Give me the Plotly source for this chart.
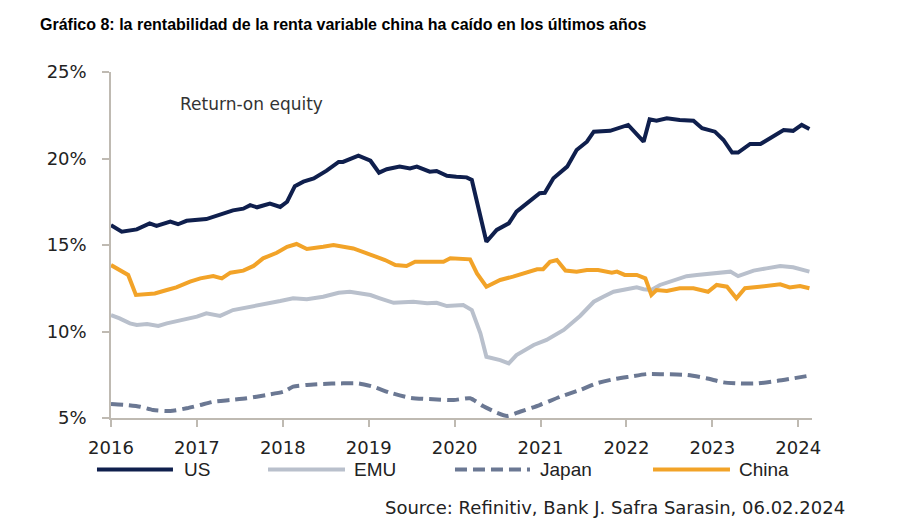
import plotly.graph_objects as go

# ---------------- data (decimal years, % values) ----------------
us_x = [2016.00, 2016.125, 2016.30, 2016.45, 2016.53, 2016.69, 2016.78, 2016.88, 2017.11, 2017.27,
        2017.42, 2017.54, 2017.62, 2017.70, 2017.85, 2017.97, 2018.05, 2018.14, 2018.24, 2018.36,
        2018.51, 2018.65, 2018.70, 2018.88, 2019.02, 2019.12, 2019.21, 2019.36, 2019.48, 2019.56,
        2019.71, 2019.79, 2019.91, 2020.02, 2020.14, 2020.20, 2020.37, 2020.49, 2020.63, 2020.72,
        2020.88, 2020.99, 2021.05, 2021.15, 2021.31, 2021.42, 2021.54, 2021.62, 2021.81, 2022.02,
        2022.20, 2022.27, 2022.35, 2022.47, 2022.62, 2022.78, 2022.88, 2023.03, 2023.13, 2023.23,
        2023.30, 2023.44, 2023.56, 2023.68, 2023.83, 2023.94, 2024.04, 2024.13]
us_y = [16.15, 15.77, 15.9, 16.25, 16.1, 16.35, 16.2, 16.4, 16.5, 16.78,
        17.0, 17.1, 17.3, 17.18, 17.4, 17.2, 17.5, 18.4, 18.66, 18.85,
        19.3, 19.8, 19.8, 20.16, 19.87, 19.18, 19.38, 19.53, 19.43, 19.53,
        19.24, 19.28, 19.0, 18.95, 18.91, 18.76, 15.19, 15.87, 16.25, 16.93,
        17.6, 17.99, 18.02, 18.86, 19.53, 20.49, 20.97, 21.55, 21.6, 21.94,
        20.97, 22.26, 22.18, 22.32, 22.23, 22.18, 21.75, 21.55, 21.07, 20.34,
        20.34, 20.84, 20.84, 21.23, 21.65, 21.6, 21.94, 21.7]

emu_x = [2016.00, 2016.10, 2016.22, 2016.30, 2016.42, 2016.55, 2016.65, 2016.84, 2017.00, 2017.11,
         2017.27, 2017.42, 2017.58, 2017.77, 2017.97, 2018.12, 2018.28, 2018.47, 2018.65, 2018.78,
         2019.02, 2019.13, 2019.29, 2019.52, 2019.68, 2019.79, 2019.91, 2020.10, 2020.20, 2020.30,
         2020.37, 2020.53, 2020.63, 2020.72, 2020.92, 2021.07, 2021.27, 2021.46, 2021.62, 2021.73,
         2021.85, 2022.00, 2022.12, 2022.20, 2022.29, 2022.39, 2022.55, 2022.70, 2022.82, 2022.93,
         2023.09, 2023.21, 2023.30, 2023.48, 2023.63, 2023.79, 2023.94, 2024.13]
emu_y = [10.95, 10.76, 10.47, 10.38, 10.43, 10.32, 10.47, 10.66, 10.86, 11.05,
         10.9, 11.24, 11.38, 11.59, 11.76, 11.92, 11.86, 12.01, 12.24, 12.3,
         12.11, 11.92, 11.66, 11.72, 11.63, 11.66, 11.47, 11.53, 11.24, 9.9,
         8.54, 8.35, 8.16, 8.64, 9.22, 9.51, 10.09, 10.9, 11.72, 12.01,
         12.3, 12.44, 12.55, 12.44, 12.4, 12.69, 12.98, 13.2, 13.27, 13.32,
         13.36, 13.46, 13.2, 13.52, 13.65, 13.79, 13.71, 13.46]

japan_x = [2016.00, 2016.18, 2016.34, 2016.49, 2016.69, 2016.88, 2017.04, 2017.19, 2017.39, 2017.58,
           2017.81, 2018.01, 2018.12, 2018.28, 2018.47, 2018.67, 2018.88, 2019.05, 2019.25, 2019.48,
           2019.75, 2019.99, 2020.18, 2020.33, 2020.49, 2020.61, 2020.76, 2020.99, 2021.23, 2021.46,
           2021.65, 2021.85, 2022.04, 2022.24, 2022.43, 2022.70, 2022.93, 2023.13, 2023.32, 2023.52,
           2023.75, 2023.94, 2024.13]
japan_y = [5.81, 5.75, 5.65, 5.46, 5.4, 5.56, 5.75, 5.94, 6.04, 6.14,
           6.33, 6.52, 6.81, 6.91, 6.97, 7.0, 7.0, 6.81, 6.46, 6.17,
           6.08, 6.04, 6.14, 5.69, 5.31, 5.12, 5.36, 5.75, 6.23, 6.62,
           7.0, 7.24, 7.39, 7.54, 7.53, 7.49, 7.3, 7.06, 7.0, 7.0,
           7.14, 7.29, 7.45]

china_x = [2016.00, 2016.10, 2016.20, 2016.29, 2016.38, 2016.51, 2016.65, 2016.76, 2016.92, 2017.04,
           2017.19, 2017.29, 2017.39, 2017.54, 2017.66, 2017.77, 2017.93, 2018.05, 2018.16, 2018.28,
           2018.47, 2018.59, 2018.82, 2018.96, 2019.09, 2019.19, 2019.31, 2019.44, 2019.54, 2019.87,
           2019.95, 2020.18, 2020.26, 2020.37, 2020.53, 2020.68, 2020.84, 2020.96, 2021.03, 2021.11,
           2021.19, 2021.29, 2021.42, 2021.54, 2021.67, 2021.83, 2021.89, 2021.98, 2022.12, 2022.22,
           2022.29, 2022.35, 2022.47, 2022.62, 2022.78, 2022.95, 2023.05, 2023.17, 2023.28, 2023.38,
           2023.55, 2023.79, 2023.90, 2024.02, 2024.13]
china_y = [13.84, 13.55, 13.27, 12.11, 12.17, 12.2, 12.4, 12.55, 12.88, 13.07,
           13.2, 13.07, 13.4, 13.52, 13.79, 14.23, 14.55, 14.9, 15.06, 14.77,
           14.9, 15.0, 14.8, 14.52, 14.32, 14.13, 13.84, 13.79, 14.03, 14.03,
           14.23, 14.17, 13.36, 12.59, 12.98, 13.17, 13.4, 13.6, 13.6, 14.03,
           14.13, 13.52, 13.46, 13.55, 13.55, 13.4, 13.46, 13.27, 13.27, 13.07,
           12.11, 12.4, 12.34, 12.5, 12.5, 12.3, 12.69, 12.59, 11.92, 12.5,
           12.59, 12.73, 12.55, 12.63, 12.5]

year_ticks = [2016, 2017, 2018, 2019, 2020, 2021, 2022, 2023, 2024]
year_labels = [str(y) for y in year_ticks]
pct_ticks = [5, 10, 15, 20, 25]
pct_labels = ["5%", "10%", "15%", "20%", "25%"]

series_names = ["US", "EMU", "Japan", "China"]
colors = {"US": "#0f1f4d", "EMU": "#b9c0cc", "Japan": "#6b7893", "China": "#f2a328"}
JAPAN_DASH = "12px,6px"

title_text = "Gráfico 8: la rentabilidad de la renta variable china ha caído en los últimos años"
inner_label = "Return-on equity"
source_text = "Source: Refinitiv, Bank J. Safra Sarasin, 06.02.2024"

FONT = "Liberation Sans, Arial, sans-serif"
WIDE = "DejaVu Sans, Liberation Sans, sans-serif"
AXIS_COLOR = "#bfbab2"

fig = go.Figure()
data = {"US": (us_x, us_y), "EMU": (emu_x, emu_y), "Japan": (japan_x, japan_y), "China": (china_x, china_y)}
for name in ["EMU", "Japan", "China", "US"]:
    xs, ys = data[name]
    line = dict(color=colors[name], width=4)
    if name == "Japan":
        line["dash"] = JAPAN_DASH
        line["shape"] = "spline"
        line["smoothing"] = 0.6
    fig.add_trace(go.Scatter(x=xs, y=ys, mode="lines", name=name, line=line, showlegend=False))

# the page body adds an 8px margin, so the figure is 8px smaller and margins shifted
fig.update_layout(
    width=899, height=524, autosize=False,
    margin=dict(l=103, r=95, t=64, b=114),
    paper_bgcolor="white", plot_bgcolor="white",
    font=dict(family=FONT, color="#222222", size=18),
)
fig.update_xaxes(
    range=[2016, 2024.16], tickmode="array", tickvals=year_ticks, ticktext=year_labels,
    showgrid=False, zeroline=False, showline=True, linecolor=AXIS_COLOR, linewidth=1.5,
    ticks="outside", ticklen=7, tickwidth=1.5, tickcolor=AXIS_COLOR,
    tickfont=dict(size=18, color="#222222", family=WIDE), ticklabelstandoff=6,
)
fig.update_yaxes(
    range=[5, 25], tickmode="array", tickvals=pct_ticks, ticktext=pct_labels,
    showgrid=False, zeroline=False, showline=True, linecolor=AXIS_COLOR, linewidth=1.5,
    ticks="outside", ticklen=7, tickwidth=1.5, tickcolor=AXIS_COLOR,
    tickfont=dict(size=18, color="#222222", family=WIDE), ticklabelstandoff=12,
)

# title
fig.add_annotation(text="<b>" + title_text + "</b>", xref="paper", yref="paper",
                   x=-0.104, y=1.136, xanchor="left", yanchor="middle", showarrow=False,
                   font=dict(family=FONT, size=16, color="#000000"))
# inner label
fig.add_annotation(text=inner_label, xref="paper", yref="paper",
                   x=0.0956, y=0.9075, xanchor="left", yanchor="middle", showarrow=False,
                   font=dict(family=WIDE, size=17, color="#333333"))

# manual legend
legend_y = -0.149
legend_items = [("US", -0.020, 0.0884, 0.1013),
                ("EMU", 0.224, 0.3338, 0.3438),
                ("Japan", 0.4907, 0.5977, 0.6091),
                ("China", 0.7732, 0.8830, 0.893)]
for name, x0, x1, xt in legend_items:
    ln = dict(color=colors[name], width=4)
    if name == "Japan":
        ln["dash"] = JAPAN_DASH
    fig.add_shape(type="line", xref="paper", yref="paper", x0=x0, x1=x1, y0=legend_y, y1=legend_y, line=ln)
    fig.add_annotation(text=name, xref="paper", yref="paper", x=xt, y=legend_y,
                       xanchor="left", yanchor="middle", showarrow=False,
                       font=dict(family=FONT, size=19, color="#222222"))

# source
fig.add_annotation(text=source_text, xref="paper", yref="paper", x=1.05, y=-0.26,
                   xanchor="right", yanchor="middle", showarrow=False,
                   font=dict(family=WIDE, size=18, color="#222222"))

fig.write_html("out.html")
